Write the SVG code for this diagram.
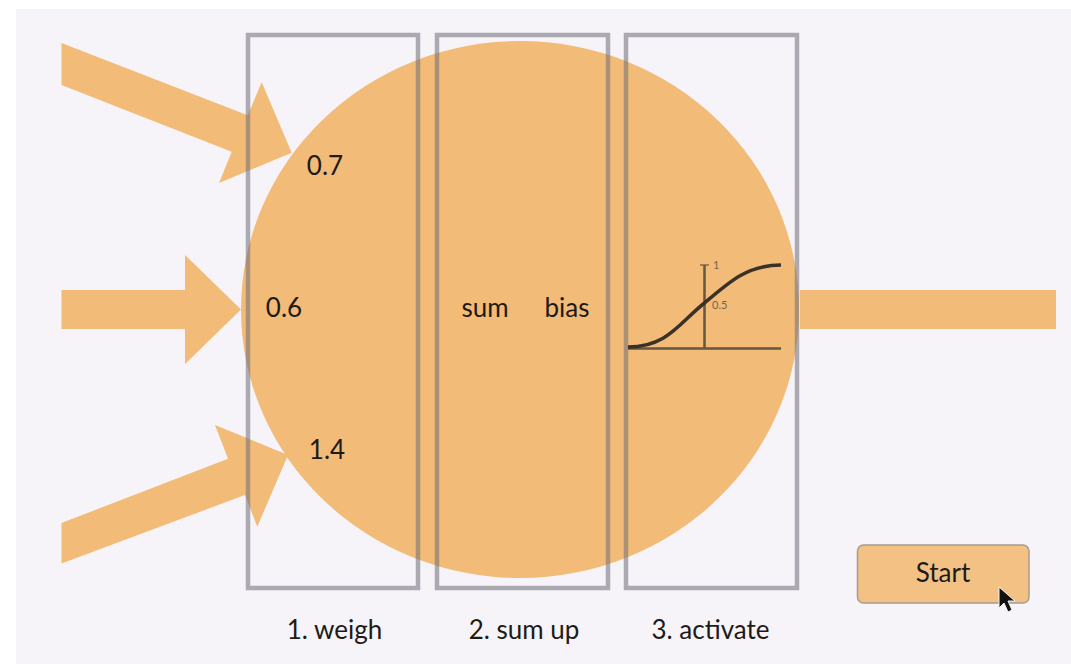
<svg xmlns="http://www.w3.org/2000/svg" width="1071" height="664" viewBox="0 0 1071 664">
<style>
.o{fill:#f2bb77}
.box{fill:none;stroke:#6e6e78;stroke-opacity:.55;stroke-width:4.500}
text{font-family:Lato,"Open Sans",sans-serif;fill:#1e1a16;font-size:26px}
.c{text-anchor:middle}
.ax{stroke:#66563f;stroke-width:2.500;fill:none}
.tick{stroke:#66563f;stroke-width:1.200;fill:none}
.sm{font-size:11px;fill:#75634c}
</style>
<rect width="1071" height="664" fill="#ffffff"/>
<rect x="16" y="9" width="1055" height="655" fill="#f6f4f8"/>
<g id="neuron"><ellipse class="o" cx="520" cy="309.5" rx="279" ry="268.5"/></g>
<g id="connectors">
<polygon class="o" points="61.5,43 247.7,115.2 261.7,82.3 291.7,152.7 219,183 231.7,151.7 61.5,85"/>
<polygon class="o" points="61.5,290 185,290 185,255 241,309.5 185,364 185,329 61.5,329"/>
<polygon class="o" points="61.5,523 228,458.7 215,425 288,455 257.3,526.7 245,495 61.5,563.5"/>
<rect class="o" x="800" y="290" width="256" height="39"/>
</g>
<g id="step-weigh"><rect class="box" x="248" y="35" width="170" height="553"/><text x="334.500" y="639" class="c">1. weigh</text></g>
<g id="step-sum"><rect class="box" x="437" y="35" width="171" height="553"/><text x="524" y="639" class="c">2. sum up</text></g>
<g id="step-activate"><rect class="box" x="626" y="35" width="171" height="553"/><text x="710.500" y="639" class="c">3. activate</text></g>
<g id="weights">
<text x="325" y="175" class="c">0.7</text>
<text x="284" y="317" class="c">0.6</text>
<text x="327" y="459" class="c">1.4</text>
</g>
<g id="sum-bias">
<text x="485" y="317" class="c">sum</text>
<text x="567" y="317" class="c">bias</text>
</g>
<g id="activation-chart">
<path class="ax" d="M628 348.500H781M704.500 265V348.500"/>
<path class="tick" d="M700 265H709"/>
<path d="M628 347C668 347 680 322 704.500 303C730 281 748 265 781 265" fill="none" stroke="#3a3128" stroke-width="3.500"/>
<text x="713" y="269" class="sm">1</text>
<text x="712" y="309" class="sm">0.5</text>
</g>
<g id="start-button">
<rect x="857.500" y="545" width="171.500" height="58" rx="6" fill="#f3c184" stroke="#a89c8a" stroke-width="1.500"/>
<text x="943" y="582" class="c">Start</text>
<path d="M999 587V608L1004 603L1008 612L1012 610L1008 601L1015 601Z" fill="#111" stroke="#f5f5f5" stroke-width="1"/>
</g>
</svg>
